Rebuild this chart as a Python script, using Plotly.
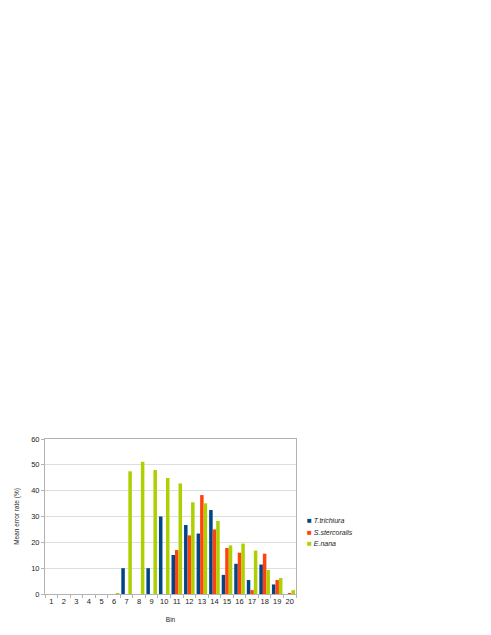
import plotly.graph_objects as go

bins = [str(i) for i in range(1, 21)]
trichiura = [0, 0, 0, 0, 0, 0, 10, 0, 10, 30, 15.1, 26.7, 23.4, 32.5, 7.4, 11.7, 5.4, 11.4, 3.7, 0]
stercoralis = [0, 0, 0, 0, 0, 0, 0, 0, 0, 0, 17.0, 22.7, 38.3, 25.0, 17.8, 16.0, 1.5, 15.6, 5.4, 0.3]
nana = [0, 0, 0, 0, 0, 0.3, 47.5, 51.2, 48.0, 44.9, 42.8, 35.5, 35.1, 28.3, 18.8, 19.5, 16.8, 9.3, 6.2, 1.5]
series_names = ["T.trichiura", "S.stercoralis", "E.nana"]
colors = ["#004586", "#ff420e", "#aecf00"]
y_ticks = [0, 10, 20, 30, 40, 50, 60]

fig = go.Figure()
for name, vals, col in zip(series_names, [trichiura, stercoralis, nana], colors):
    fig.add_trace(go.Bar(x=bins, y=vals, name=name, showlegend=False,
                         marker=dict(color=col, line=dict(width=0))))

# compact legend (swatch glyph + italic label), one line per series
for i, (name, col) in enumerate(zip(series_names, colors)):
    fig.add_annotation(
        xref="paper", yref="paper", x=1.034, y=0.471 - i * 0.074,
        xanchor="left", yanchor="middle", showarrow=False,
        text=f"<span style='color:{col};font-size:8px'>■</span> <i>{name}</i>",
        font=dict(size=7, color="#222222"),
    )

font_family = "Liberation Sans, Arial, sans-serif"
fig.update_layout(
    width=491, height=635,
    margin=dict(l=37, r=203, t=431, b=49, autoexpand=False),
    paper_bgcolor="white", plot_bgcolor="white",
    barmode="group", bargap=0.16, bargroupgap=0,
    font=dict(family=font_family, size=7, color="#222222"),
    showlegend=False,
    xaxis=dict(
        type="category", showgrid=False, showline=True, linecolor="#b3b3b3", linewidth=1,
        mirror=True, ticks="outside", ticklen=3, tickcolor="#b3b3b3", tickson="boundaries",
        tickangle=0, automargin=False,
        tickfont=dict(size=7.5, color="#222222"),
        title=dict(text="Bin", font=dict(size=6.5, color="#222222"), standoff=12),
    ),
    yaxis=dict(
        range=[0, 60], tickvals=y_ticks, showgrid=True, gridcolor="#dddddd", gridwidth=1,
        showline=True, linecolor="#b3b3b3", linewidth=1, mirror=True, automargin=False,
        ticks="outside", ticklen=3, tickcolor="#b3b3b3", zeroline=False,
        tickfont=dict(size=7.5, color="#222222"),
        title=dict(text="Mean error rate (%)", font=dict(size=6.5, color="#222222"), standoff=10),
    ),
)

fig.write_html("out.html")
